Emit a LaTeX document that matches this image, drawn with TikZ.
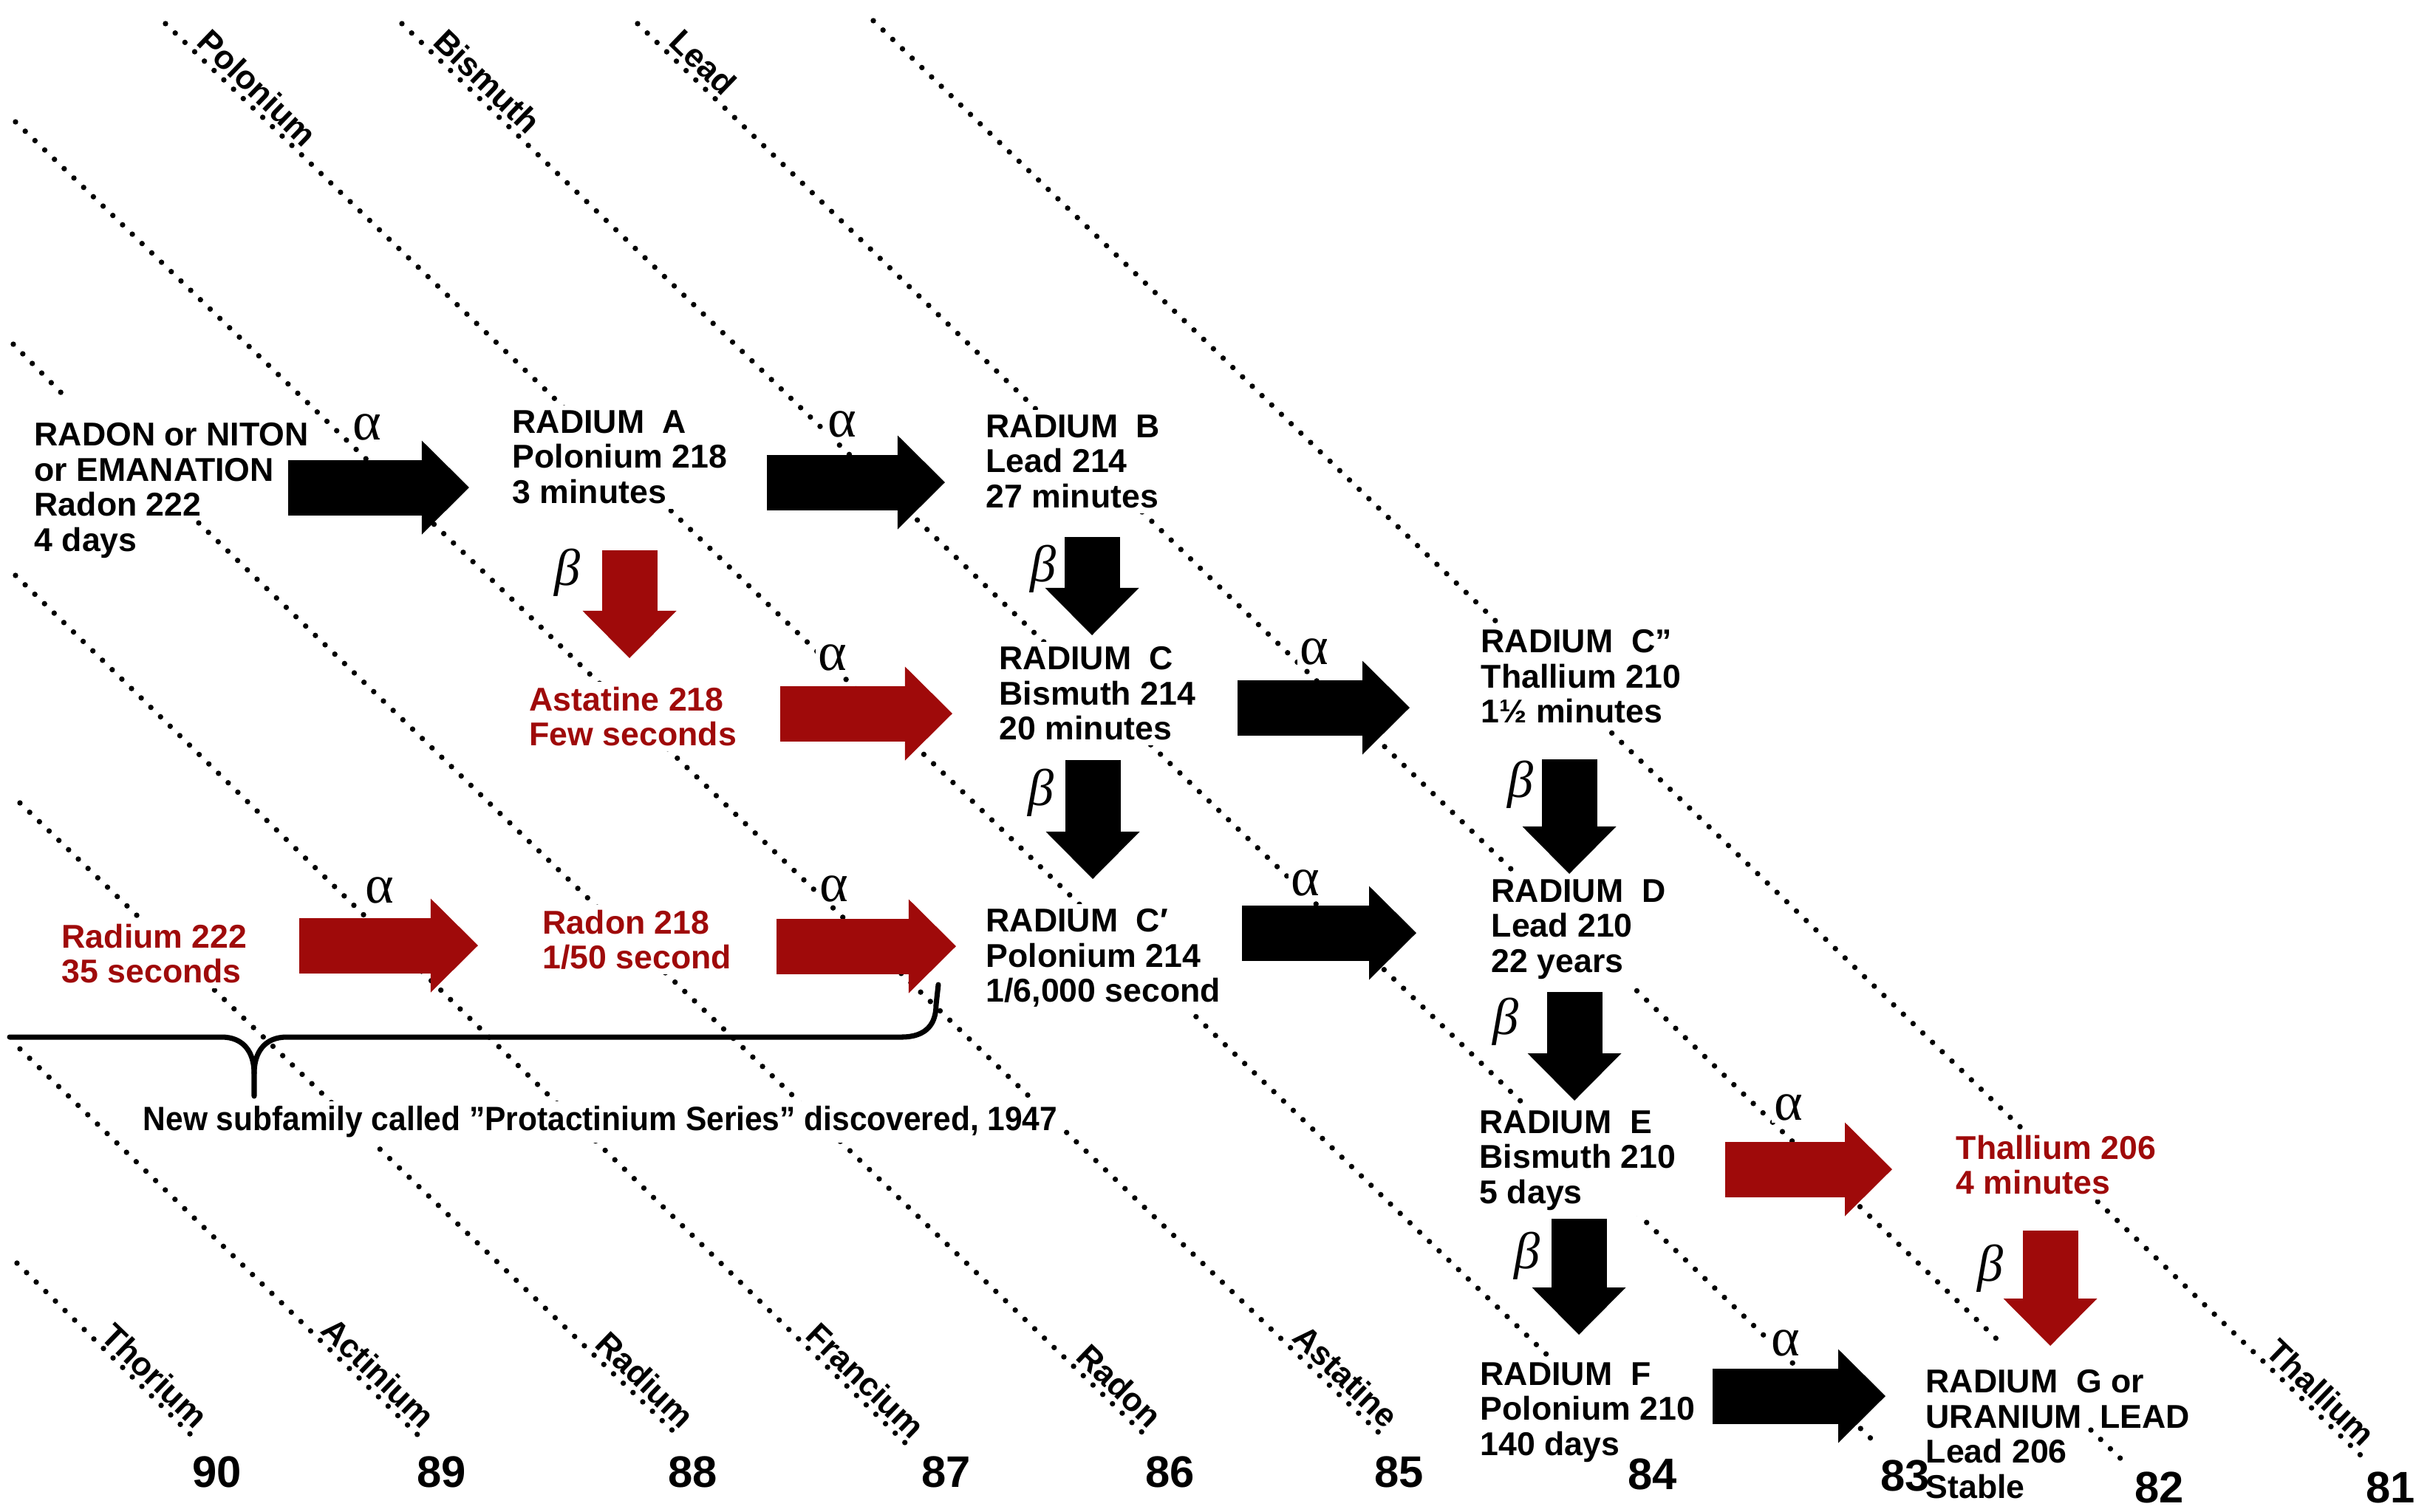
\documentclass[tikz,border=0pt]{standalone}
\usepackage{fontspec}
\setmainfont{Liberation Sans}
\newfontfamily\greekfont{Liberation Serif}
\newfontfamily\notefont{Liberation Sans}[FakeStretch=0.93]
\usetikzlibrary{arrows.meta}
\definecolor{DecayRed}{HTML}{9F0A0A}

\begin{document}
\begin{tikzpicture}[
  nuc/.style={anchor=north west, align=left, fill=white, inner sep=2pt,
    xshift=-2pt, yshift=2pt, font=\fontsize{12.7}{13.5}\selectfont\bfseries},
  rednuc/.style={nuc, text=DecayRed},
  elem/.style={rotate=-44, inner sep=2pt, font=\fontsize{12.7}{13.5}\selectfont\bfseries},
  znum/.style={anchor=north west, inner sep=0pt, font=\fontsize{17}{17}\selectfont\bfseries},
  alab/.style={fill=white, inner sep=1pt, font=\greekfont\fontsize{21}{21}\selectfont},
  blab/.style={inner sep=0pt, font=\greekfont\itshape\fontsize{20}{20}\selectfont},
  dotline/.style={line width=2.1pt, line cap=round, dash pattern=on 0pt off 5.2pt},
  decay/.style={line width=0.75cm, -{Triangle[length=0.64cm, width=1.27cm, line width=0pt]}},
  reddecay/.style={decay, DecayRed},
  note/.style={anchor=north west, fill=white, inner sep=2pt, xshift=-2pt, yshift=2pt,
    font=\notefont\fontsize{13}{13}\selectfont\bfseries},
  brace/.style={line width=2pt, line cap=round, line join=round}
]
\useasboundingbox (0,0) rectangle (32.89,-20.46);

\draw[dotline] (11.82,-0.28) -- (31.96,-19.71);
\draw[dotline] (8.63,-0.32) -- (27.12,-18.22);
\draw[dotline] (28.30,-19.36) -- (28.80,-19.84);
\draw[dotline] (5.44,-0.32) -- (25.37,-19.52);
\draw[dotline] (2.24,-0.32) -- (22.14,-19.50);
\draw[dotline] (0.21,-1.65) -- (18.74,-19.47);
\draw[dotline] (0.18,-4.66) -- (0.91,-5.40);
\draw[dotline] (2.69,-7.08) -- (15.54,-19.47);
\draw[dotline] (0.21,-7.79) -- (12.33,-19.61);
\draw[dotline] (0.27,-10.87) -- (9.21,-19.47);
\draw[dotline] (0.27,-14.20) -- (5.70,-19.47);
\draw[dotline] (0.23,-17.10) -- (2.63,-19.47);

\node[elem, anchor=south west] (polbl) at (2.53,-0.60) {Polonium};
\node[elem, anchor=south west] (bilbl) at (5.73,-0.60) {Bismuth};
\node[elem, anchor=south west] (pblbl) at (8.92,-0.60) {Lead};
\node[elem, anchor=south east] (thlbl) at (2.63,-19.47) {Thorium};
\node[elem, anchor=south east] (aclbl) at (5.70,-19.47) {Actinium};
\node[elem, anchor=south east] (ralbl) at (9.21,-19.47) {Radium};
\node[elem, anchor=south east] (frlbl) at (12.33,-19.61) {Francium};
\node[elem, anchor=south east] (rnlbl) at (15.54,-19.47) {Radon};
\node[elem, anchor=south east] (atlbl) at (18.74,-19.47) {Astatine};
\node[elem, anchor=south east] (tllbl) at (31.96,-19.71) {Thallium};

\node[nuc, fill=none] (rn) at (0.46,-5.72) {RADON or NITON\\or EMANATION\\Radon 222\\4 days};
\node[nuc] (ra) at (6.93,-5.55) {RADIUM\ \ A\\Polonium 218\\3 minutes};
\node[nuc] (rb) at (13.34,-5.61) {RADIUM\ \ B\\Lead 214\\27 minutes};
\node[rednuc] (at218) at (7.16,-9.29) {Astatine 218\\Few seconds};
\node[nuc] (rc) at (13.52,-8.75) {RADIUM\ \ C\\Bismuth 214\\20 minutes};
\node[nuc] (rcc) at (20.04,-8.52) {RADIUM\ \ C”\\Thallium 210\\1½ minutes};
\node[rednuc] (ra222) at (0.83,-12.50) {Radium 222\\35 seconds};
\node[rednuc] (rn218) at (7.34,-12.31) {Radon 218\\1/50 second};
\node[nuc] (rcp) at (13.34,-12.30) {RADIUM\ \ C′\\Polonium 214\\1/6,000 second};
\node[nuc] (rd) at (20.18,-11.90) {RADIUM\ \ D\\Lead 210\\22 years};
\node[nuc] (re) at (20.02,-15.03) {RADIUM\ \ E\\Bismuth 210\\5 days};
\node[nuc] (rf) at (20.03,-18.44) {RADIUM\ \ F\\Polonium 210\\140 days};
\node[rednuc] (tl206) at (26.47,-15.36) {Thallium 206\\4 minutes};
\node[nuc, fill=none] (rg) at (26.06,-18.54) {RADIUM\ \ G or\\URANIUM\ \ LEAD\\Lead 206\\Stable};

\node[note] (subfam) at (1.93,-14.97) {New subfamily called ”Protactinium Series” discovered, 1947};

\node[alab] (a1) at (4.97,-5.78) {α};
\node[alab] (a2) at (11.40,-5.74) {α};
\node[alab] (a3) at (11.27,-8.90) {α};
\node[alab] (a4) at (11.29,-12.03) {α};
\node[alab] (a5) at (17.79,-8.82) {α};
\node[alab] (a6) at (17.67,-11.95) {α};
\node[alab] (a7) at (5.14,-12.05) {α};
\node[alab] (a8) at (24.21,-14.99) {α};
\node[alab] (a9) at (24.17,-18.18) {α};
\node[blab] (b1) at (7.68,-7.75) {β};
\node[blab] (b2) at (14.12,-7.70) {β};
\node[blab] (b3) at (14.09,-10.73) {β};
\node[blab] (b4) at (20.58,-10.62) {β};
\node[blab] (b5) at (20.38,-13.83) {β};
\node[blab] (b6) at (20.67,-17.00) {β};
\node[blab] (b7) at (26.94,-17.17) {β};

\draw[decay, shorten <=-3.6mm, shorten >=5.1mm] (rn.east |- 0,-6.60) -- (ra.west |- 0,-6.60);
\draw[decay, shorten <=4.6mm, shorten >=4.8mm] (ra.east |- 0,-6.53) -- (rb.west |- 0,-6.53);
\draw[reddecay, shorten <=5.1mm, shorten >=5.6mm] (at218.east |- 0,-9.66) -- (rc.west |- 0,-9.66);
\draw[decay, shorten <=4.9mm, shorten >=8.9mm] (rc.east |- 0,-9.58) -- (rcc.west |- 0,-9.58);
\draw[reddecay, shorten <=6.3mm, shorten >=8.0mm] (ra222.east |- 0,-12.80) -- (rn218.west |- 0,-12.80);
\draw[reddecay, shorten <=5.3mm, shorten >=3.3mm] (rn218.east |- 0,-12.81) -- (rcp.west |- 0,-12.81);
\draw[decay, shorten <=2.1mm, shorten >=9.4mm] (rcp.east |- 0,-12.63) -- (rd.west |- 0,-12.63);
\draw[reddecay, shorten <=5.9mm, shorten >=7.9mm] (re.east |- 0,-15.83) -- (tl206.west |- 0,-15.83);
\draw[decay, shorten <=1.6mm, shorten >=4.7mm] (rf.east |- 0,-18.90) -- (rg.west |- 0,-18.90);
\draw[reddecay, shorten <=5.5mm, shorten >=3.1mm] (ra.south -| 8.52,0) -- (at218.north -| 8.52,0);
\draw[decay, shorten <=3.2mm, shorten >=0.8mm] (rb.south -| 14.78,0) -- (rc.north -| 14.78,0);
\draw[decay, shorten <=1.9mm, shorten >=3.3mm] (rc.south -| 14.79,0) -- (rcp.north -| 14.79,0);
\draw[decay, shorten <=4.1mm] (rcc.south -| 21.24,0) -- (rd.north -| 21.24,0);
\draw[decay, shorten <=1.0mm, shorten >=0.6mm] (rd.south -| 21.31,0) -- (re.north -| 21.31,0);
\draw[decay, shorten <=0.4mm, shorten >=3.0mm] (re.south -| 21.37,0) -- (rf.north -| 21.37,0);
\draw[reddecay, shorten <=4.1mm, shorten >=2.5mm] (tl206.south -| 27.75,0) -- (rg.north -| 27.75,0);

\node[znum] (n90) at (2.60,-19.71) {90};
\node[znum] (n89) at (5.64,-19.71) {89};
\node[znum] (n88) at (9.04,-19.71) {88};
\node[znum] (n87) at (12.47,-19.71) {87};
\node[znum] (n86) at (15.50,-19.71) {86};
\node[znum] (n85) at (18.60,-19.71) {85};
\node[znum] (n84) at (22.03,-19.74) {84};
\node[znum] (n83) at (25.45,-19.76) {83};
\node[znum] (n82) at (28.89,-19.92) {82};
\node[znum] (n81) at (32.02,-19.92) {81};

\draw[brace] (0.13,-14.04) -- (3.00,-14.04) .. controls (3.30,-14.04) and (3.44,-14.25) .. (3.44,-14.53) -- (3.44,-14.84);
\draw[brace] (3.44,-14.53) .. controls (3.44,-14.25) and (3.58,-14.04) .. (3.88,-14.04) -- (12.20,-14.04) .. controls (12.55,-14.04) and (12.67,-13.85) .. (12.67,-13.60) -- (12.70,-13.33);
\end{tikzpicture}
\end{document}
